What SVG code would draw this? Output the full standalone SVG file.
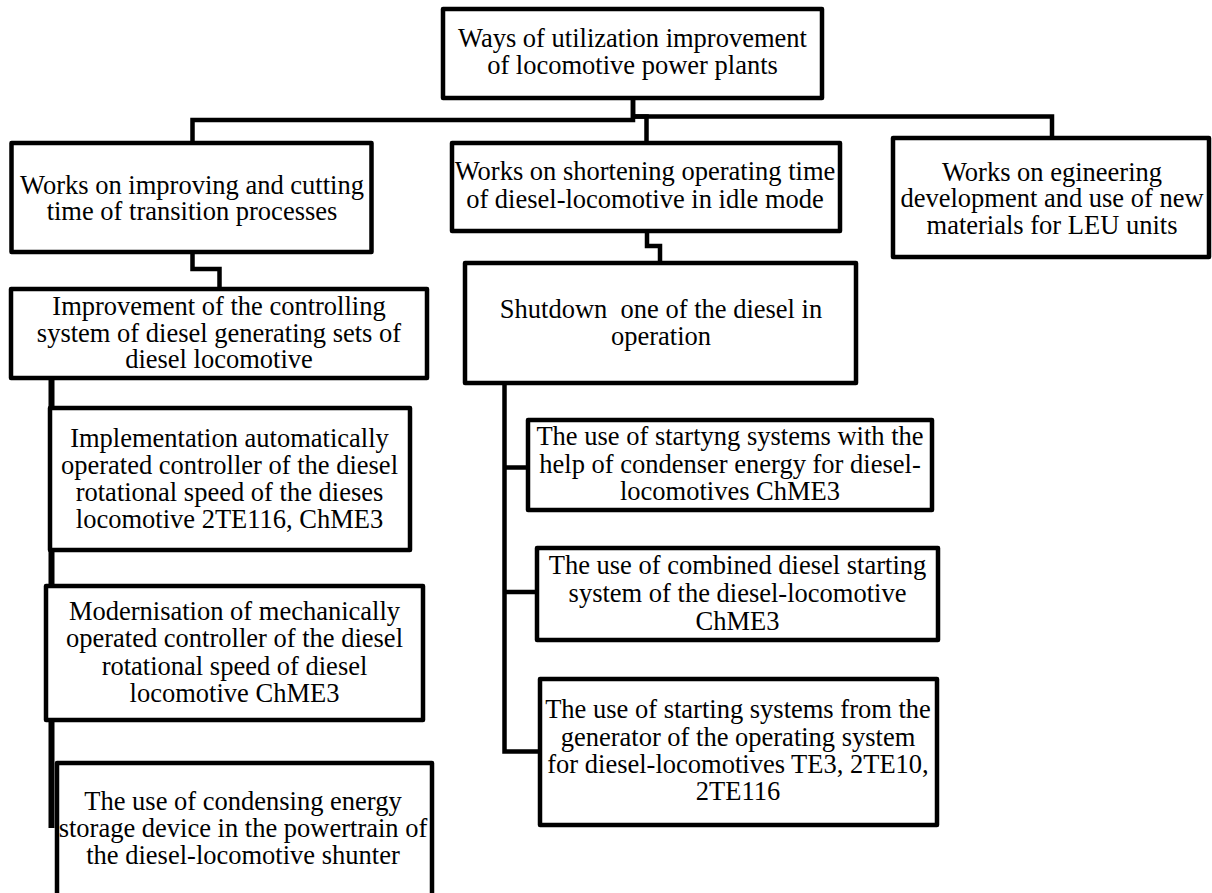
<svg xmlns="http://www.w3.org/2000/svg" width="1212" height="893" viewBox="0 0 1212 893">
<style>
.box{fill:#fff;stroke:#000;stroke-width:4.5;stroke-linejoin:round}
.conn{fill:none;stroke:#000;stroke-width:4.5;stroke-linejoin:miter}
.spine{fill:none;stroke:#000;stroke-width:6}
text{font-family:"Liberation Serif","Times New Roman",serif;font-size:26.5px;text-anchor:middle;fill:#000;white-space:pre}
</style>
<rect width="1212" height="893" fill="#fff"/>
<g id="connectors">
<path class="conn" d="M633,98 V120 H192.5 V143"/>
<path class="conn" d="M633,98 V116.5 H646.5 V143"/>
<path class="conn" d="M633,116.5 H1052 V138"/>
<path class="conn" d="M192.5,252 V269 H219.5 V289"/>
<path class="conn" d="M647,231 V246 H660 V263"/>
<path class="spine" d="M51.5,378 V828"/>
<path class="conn" d="M504.5,383 V751.5 H540"/>
<path class="conn" d="M504.5,467.5 H528"/>
<path class="conn" d="M504.5,592 H537"/>
</g>
<g id="n-root">
<rect class="box" x="443" y="9" width="379" height="89"/>
<text x="632.5" y="47">Ways of utilization improvement</text>
<text x="632.5" y="73.5">of locomotive power plants</text>
</g>
<g id="n-transition">
<rect class="box" x="11.5" y="143" width="360" height="109"/>
<text x="192" y="194">Works on improving and cutting</text>
<text x="192" y="219.5">time of transition processes</text>
</g>
<g id="n-idle">
<rect class="box" x="452" y="143" width="388" height="88"/>
<text x="645" y="180">Works on shortening operating time</text>
<text x="645" y="208">of diesel-locomotive in idle mode</text>
</g>
<g id="n-materials">
<rect class="box" x="893" y="138" width="316" height="119"/>
<text x="1052" y="180.5">Works on egineering</text>
<text x="1052" y="207">development and use of new</text>
<text x="1052" y="233.5">materials for LEU units</text>
</g>
<g id="n-control">
<rect class="box" x="11" y="289" width="416" height="89"/>
<text x="219" y="315">Improvement of the controlling</text>
<text x="219" y="341.5">system of diesel generating sets of</text>
<text x="219" y="368">diesel locomotive</text>
</g>
<g id="n-auto">
<rect class="box" x="50" y="408" width="360" height="142"/>
<text x="229.5" y="446.5">Implementation automatically</text>
<text x="229.5" y="473.5">operated controller of the diesel</text>
<text x="229.5" y="500.5">rotational speed of the dieses</text>
<text x="229.5" y="528">locomotive 2TE116, ChME3</text>
</g>
<g id="n-mech">
<rect class="box" x="46" y="586" width="377" height="134"/>
<text x="234.5" y="620">Modernisation of mechanically</text>
<text x="234.5" y="647">operated controller of the diesel</text>
<text x="234.5" y="674.5">rotational speed of diesel</text>
<text x="234.5" y="701.5">locomotive ChME3</text>
</g>
<g id="n-storage">
<rect class="box" x="57" y="763" width="375" height="160"/>
<text x="243" y="810">The use of condensing energy</text>
<text x="243" y="837">storage device in the powertrain of</text>
<text x="243" y="864">the diesel-locomotive shunter</text>
</g>
<g id="n-shutdown">
<rect class="box" x="465" y="263" width="391" height="120"/>
<text x="661" y="317.5">Shutdown  one of the diesel in</text>
<text x="661" y="345">operation</text>
</g>
<g id="n-condenser">
<rect class="box" x="528" y="420" width="404" height="90"/>
<text x="730" y="445">The use of startyng systems with the</text>
<text x="730" y="472.5">help of condenser energy for diesel-</text>
<text x="730" y="500">locomotives ChME3</text>
</g>
<g id="n-combined">
<rect class="box" x="537" y="548" width="401" height="92"/>
<text x="737.5" y="573.5">The use of combined diesel starting</text>
<text x="737.5" y="601.5">system of the diesel-locomotive</text>
<text x="737.5" y="630">ChME3</text>
</g>
<g id="n-generator">
<rect class="box" x="540" y="679" width="397" height="146"/>
<text x="738" y="718">The use of starting systems from the</text>
<text x="738" y="745.5">generator of the operating system</text>
<text x="738" y="773">for diesel-locomotives TE3, 2TE10,</text>
<text x="738" y="800">2TE116</text>
</g>
</svg>
